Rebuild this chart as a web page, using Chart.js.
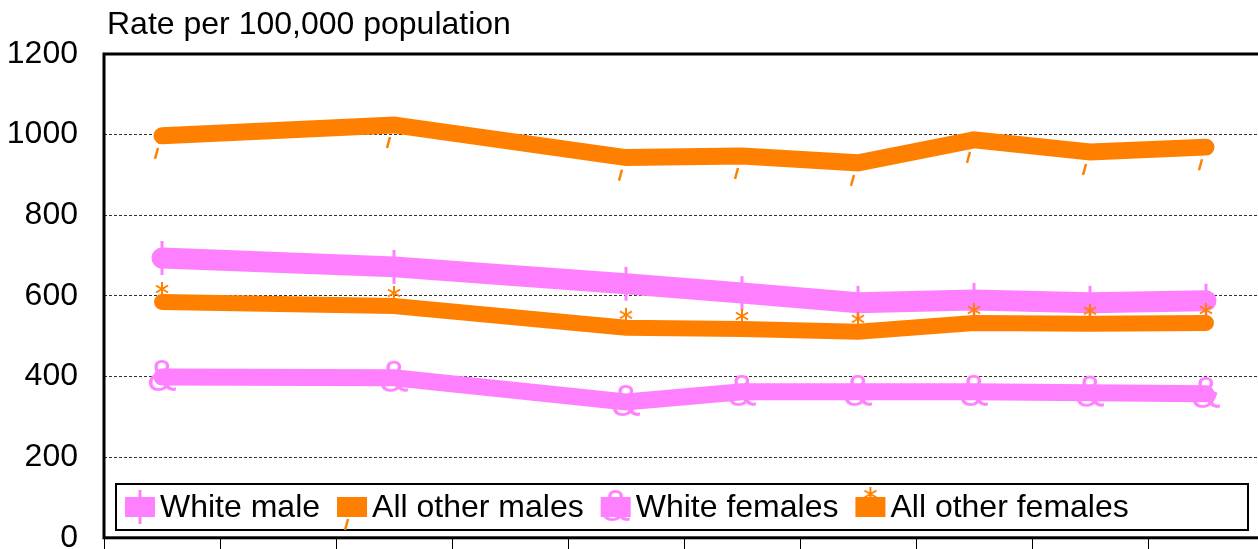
<!DOCTYPE html>
<html>
<head>
<meta charset="utf-8">
<script src="https://cdn.jsdelivr.net/npm/chart.js@4.4.1/dist/chart.umd.min.js"></script>
<style>
  html, body { margin: 0; padding: 0; background: #fff; overflow: hidden; }
  #wrap { width: 1272px; height: 583px; }
</style>
</head>
<body>
<div id="wrap"><canvas id="chart" width="1272" height="583"></canvas></div>
<script>
// x labels are cut off in the source picture, so these stay hidden
const categories = ['1980', '1981', '1982', '1983', '1984', '1985', '1986', '1987', '1988', '1989'];
const whiteMale =       [694, null, 672, null, 630, 607, 583, 590, 583, 588];
const allOtherMales =   [997, null, 1024, null, 943, 947, 930, 987, 957, 969];
const whiteFemales =    [399, null, 397, null, 337, 362, 362, 362, 360, 357];
const allOtherFemales = [585, null, 575, null, 521, 518, 511, 533, 531, 533];
const yTicks = [0, 200, 400, 600, 800, 1000, 1200];

const PINK = '#ff80ff';
const ORANGE = '#ff8000';
const FONT = '"Liberation Sans", Arial, sans-serif';

// marker glyphs, drawn into small canvases centred on the point
function makeMarker(w, h, draw) {
    const c = document.createElement('canvas');
    c.width = w; c.height = h;
    draw(c.getContext('2d'), w / 2, h / 2);
    return c;
}
const barMarker = makeMarker(10, 40, (ctx, cx, cy) => {
    ctx.strokeStyle = PINK; ctx.lineWidth = 3;
    ctx.beginPath(); ctx.moveTo(cx, cy - 17); ctx.lineTo(cx, cy + 17); ctx.stroke();
});
const slashMarker = makeMarker(24, 60, (ctx, cx, cy) => {
    ctx.strokeStyle = ORANGE; ctx.lineWidth = 2.5;
    ctx.beginPath(); ctx.moveTo(cx - 7, cy + 23); ctx.lineTo(cx - 4, cy + 12); ctx.stroke();
});
const ampMarker = makeMarker(50, 56, (ctx, cx, cy) => {
    ctx.fillStyle = PINK;
    ctx.font = '44px ' + FONT;
    ctx.textAlign = 'center'; ctx.textBaseline = 'middle';
    ctx.fillText('&', cx, cy + 2);
});
const starMarker = makeMarker(24, 44, (ctx, cx, cy) => {
    ctx.strokeStyle = ORANGE; ctx.lineWidth = 2;
    const sy = cy - 13, r = 7;
    ctx.beginPath();
    for (let k = 0; k < 3; k++) {
        const a = Math.PI / 2 + k * Math.PI / 3;
        ctx.moveTo(cx + r * Math.cos(a), sy + r * Math.sin(a));
        ctx.lineTo(cx - r * Math.cos(a), sy - r * Math.sin(a));
    }
    ctx.stroke();
});

// frame, title and the boxed legend inside the plot
const decorations = {
    id: 'decorations',
    afterDatasetsDraw(chart) {
        const ctx = chart.ctx;
        const a = chart.chartArea;
        ctx.save();
        ctx.strokeStyle = '#000';
        ctx.lineWidth = 3;
        ctx.strokeRect(a.left, a.top, a.right - a.left, a.bottom - a.top);

        ctx.fillStyle = '#000';
        ctx.font = '32px ' + FONT;
        ctx.textBaseline = 'middle';
        ctx.textAlign = 'left';
        ctx.fillText('Rate per 100,000 population', 107, 25);

        // legend box
        const bx = 116, by = 484, bw = 1132, bh = 46;
        ctx.fillStyle = '#fff';
        ctx.fillRect(bx, by, bw, bh);
        ctx.lineWidth = 2;
        ctx.strokeRect(bx, by, bw, bh);
        let x = 125;
        const cy = by + bh / 2;
        chart.data.datasets.forEach(ds => {
            ctx.fillStyle = ds.borderColor;
            ctx.fillRect(x, cy - 10, 30, 20);
            const m = ds.pointStyle;
            ctx.drawImage(m, x + 15 - m.width / 2, cy - m.height / 2);
            ctx.fillStyle = '#000';
            ctx.fillText(ds.label, x + 35, cy + 1);
            x += 35 + ctx.measureText(ds.label).width + 17;
        });
        ctx.restore();
    }
};

function series(label, data, color, width, marker, order) {
    return {
        label: label,
        data: data,
        borderColor: color,
        backgroundColor: color,
        borderWidth: width,
        borderCapStyle: 'round',
        borderJoinStyle: 'miter',
        pointStyle: marker,
        pointRadius: 1,
        pointBorderWidth: 0,
        tension: 0,
        spanGaps: true,
        order: order
    };
}

new Chart(document.getElementById('chart'), {
    type: 'line',
    data: {
        labels: categories,
        datasets: [
            series('White male', whiteMale, PINK, 21, barMarker, 4),
            series('All other males', allOtherMales, ORANGE, 17, slashMarker, 3),
            series('White females', whiteFemales, PINK, 17, ampMarker, 2),
            series('All other females', allOtherFemales, ORANGE, 16, starMarker, 1)
        ]
    },
    plugins: [decorations],
    options: {
        responsive: false,
        animation: false,
        devicePixelRatio: 1,
        layout: { autoPadding: false, padding: { left: 0, right: 8, top: 54, bottom: 0 } },
        plugins: {
            legend: { display: false },
            title: { display: false },
            tooltip: { enabled: false }
        },
        scales: {
            x: {
                type: 'category',
                offset: true,
                grid: { offset: true, drawOnChartArea: false, drawTicks: true, tickLength: 12, color: '#000', lineWidth: 1 },
                border: { display: false },
                ticks: { display: false },
                afterFit(scale) { scale.height = 11; }
            },
            y: {
                min: 0,
                max: 1200,
                afterBuildTicks(scale) { scale.ticks = yTicks.map(v => ({ value: v })); },
                grid: {
                    drawTicks: false,
                    color: ctx => (ctx.tick && (ctx.tick.value === 0 || ctx.tick.value === 1200)) ? 'rgba(0,0,0,0)' : '#333',
                    lineWidth: 1
                },
                border: { display: false, dash: [3, 2] },
                ticks: {
                    color: '#000',
                    font: { family: FONT, size: 32 },
                    padding: 26,
                    callback: v => String(v)
                },
                afterFit(scale) { scale.width = 104; }
            }
        }
    }
});
</script>
</body>
</html>
